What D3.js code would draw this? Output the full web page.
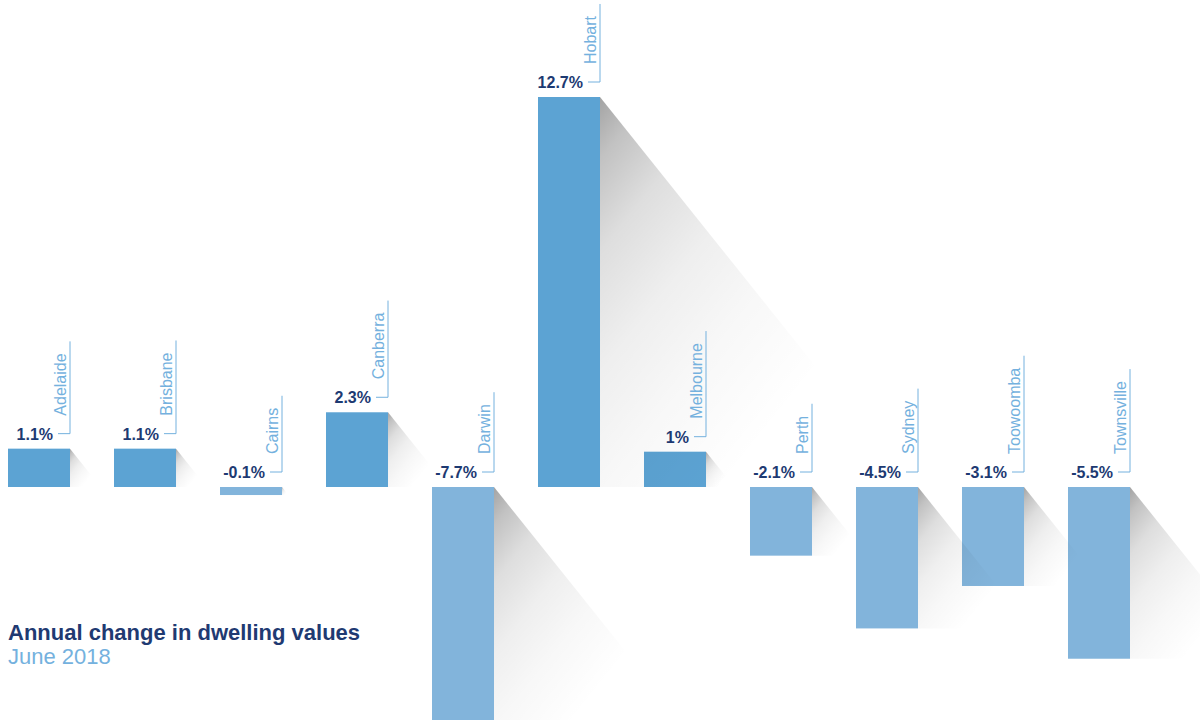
<!DOCTYPE html>
<html>
<head>
<meta charset="utf-8">
<script src="https://cdn.jsdelivr.net/npm/d3@7"></script>
<style>
  body { margin: 0; background: #fff; }
  text { font-family: "Liberation Sans", Arial, sans-serif; }
</style>
</head>
<body>
<svg id="chart" width="1200" height="720"></svg>
<script>
// annual change in dwelling values, June 2018
const cities = ["Adelaide", "Brisbane", "Cairns", "Canberra", "Darwin", "Hobart",
                "Melbourne", "Perth", "Sydney", "Toowoomba", "Townsville"];
const changes = [1.1, 1.1, -0.1, 2.3, -7.7, 12.7, 1, -2.1, -4.5, -3.1, -5.5];
const titleText = "Annual change in dwelling values";
const subtitleText = "June 2018";

const svg = d3.select("#chart");
const width = +svg.attr("width");
const height = +svg.attr("height");

const baseY = 487;
const slope = 1.25; // shadow falls down-right

const x = d3.scaleBand()
    .domain(cities)
    .range([8, 1130])
    .paddingInner(0.415)
    .paddingOuter(0);

// bar length (always measured from the baseline)
const len = d3.scaleLinear()
    .domain([0, 12.7])
    .range([5, 390]);

const data = cities.map((c, i) => {
    const v = changes[i];
    const h = len(Math.abs(v));
    const top = v >= 0 ? baseY - h : baseY;
    return { city: c, value: v, x0: x(c), top: top, bottom: top + h, h: h };
});

svg.append("rect").attr("width", width).attr("height", height).attr("fill", "#fff");

const defs = svg.append("defs");
const grad = defs.append("linearGradient")
    .attr("id", "shade")
    .attr("x1", 0).attr("y1", 0).attr("x2", 1).attr("y2", 1);
[[0, 0.36], [0.08, 0.24], [0.2, 0.13], [0.35, 0.065], [0.5, 0.03], [0.7, 0]].forEach(s => {
    grad.append("stop")
        .attr("offset", s[0])
        .attr("stop-color", "#000")
        .attr("stop-opacity", s[1]);
});

// bars
svg.append("g").selectAll("rect")
    .data(data)
    .join("rect")
    .attr("x", d => d.x0)
    .attr("y", d => d.top)
    .attr("width", x.bandwidth())
    .attr("height", d => d.h)
    .attr("fill", d => d.value >= 0 ? "#5ca3d3" : "#82b4db");

// long shadows, drawn over the bars so they fall across neighbours
svg.append("g").selectAll("path")
    .data(data)
    .join("path")
    .attr("d", d => {
        const xr = d.x0 + x.bandwidth();
        return `M${xr},${d.top}L${xr + d.h / slope},${d.bottom}L${xr},${d.bottom}Z`;
    })
    .attr("fill", "url(#shade)");

// value labels + bracketed city names
const labels = svg.append("g").selectAll("g")
    .data(data)
    .join("g");

labels.append("text")
    .attr("x", d => d.x0 + 45)
    .attr("y", d => d.top - 9)
    .attr("text-anchor", "end")
    .attr("font-size", 16)
    .attr("font-weight", "bold")
    .attr("fill", "#1d3a72")
    .text(d => d.value + "%");

labels.each(function (d) {
    const g = d3.select(this);
    const xr = d.x0 + x.bandwidth();
    const lineY = d.top - 9 - 6;
    const startY = lineY - 18;

    const name = g.append("text")
        .attr("transform", `translate(${xr - 4},${startY}) rotate(-90)`)
        .attr("font-size", 16)
        .attr("fill", "#74b1de")
        .text(d.city);
    const tl = name.node().getComputedTextLength();

    g.append("path")
        .attr("d", `M${d.x0 + 50},${lineY}H${xr}V${startY - tl - 12}`)
        .attr("fill", "none")
        .attr("stroke", "#74b1de")
        .attr("stroke-width", 1);
});

// title block
svg.append("text")
    .attr("x", 8)
    .attr("y", 640)
    .attr("font-size", 22)
    .attr("font-weight", "bold")
    .attr("fill", "#1f3a72")
    .text(titleText);

svg.append("text")
    .attr("x", 8)
    .attr("y", 664)
    .attr("font-size", 22)
    .attr("fill", "#74b1de")
    .text(subtitleText);
</script>
</body>
</html>
